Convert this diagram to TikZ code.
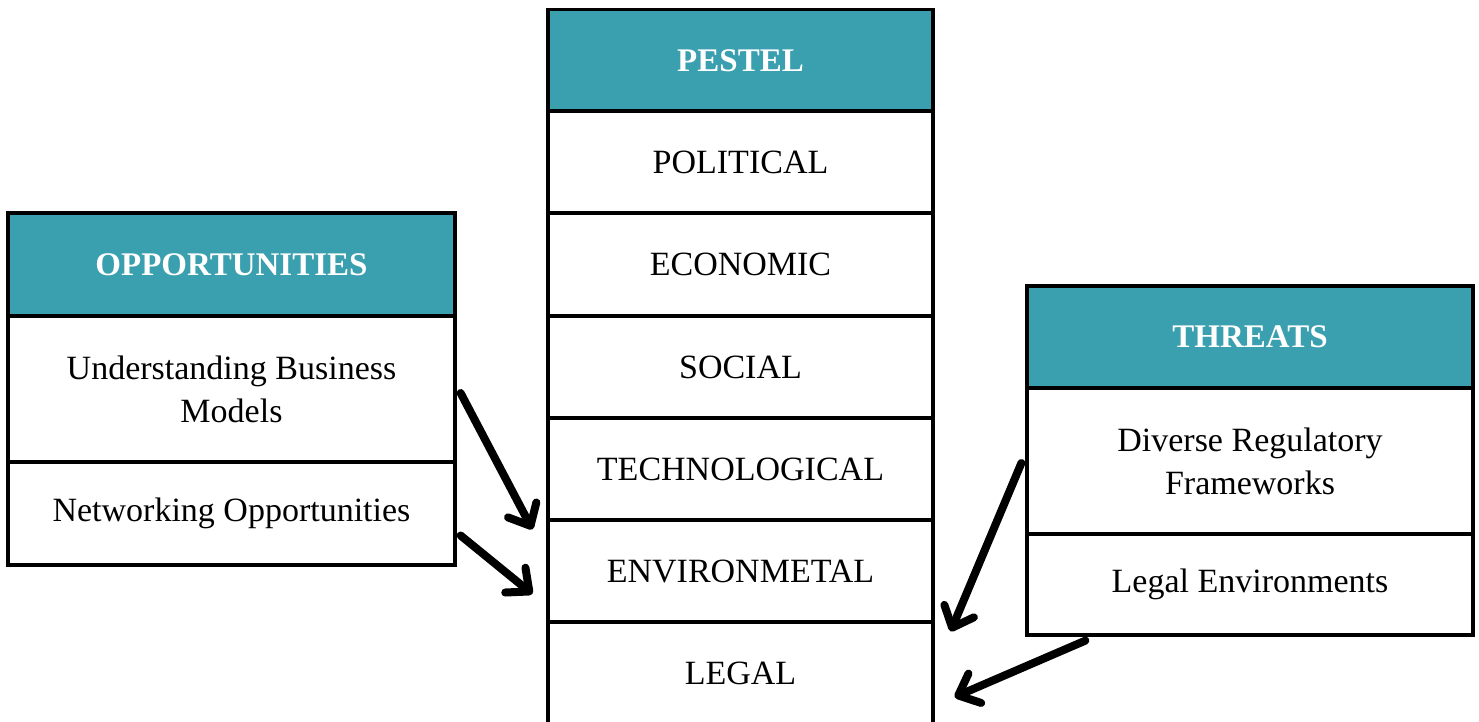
\documentclass[tikz,border=0pt]{standalone}
\usepackage{fontspec}
\setmainfont{Liberation Serif}
\usetikzlibrary{arrows.meta,calc}
\definecolor{teal}{RGB}{58,159,174}
\begin{document}
\begin{tikzpicture}[x=0.5pt,y=-0.5pt,
  cell/.style={draw=black, line width=1.6pt, fill=white, align=center, inner sep=0pt,
    font=\fontsize{17}{21.5}\selectfont},
  head/.style={cell, fill=teal, text=white, font=\fontsize{16.5}{20}\selectfont\bfseries},
  pcell/.style={minimum width=192.5pt, minimum height=51pt},
  ocell/.style={minimum width=223.5pt},
  tcell/.style={minimum width=223pt},
  arr/.style={line width=4pt, line cap=round,
    -{Straight Barb[round, length=9pt, width=16pt]}}]
\clip (0,0) rectangle (1479,722);
\fill[white] (0,0) rectangle (1479,722);

% PESTEL column
\node[head, pcell] (pestel) at (740.5,60.5) {PESTEL};
\node[cell, pcell] (pol) at (740.5,162)   {POLITICAL};
\node[cell, pcell] (eco) at (740.5,264.5) {ECONOMIC};
\node[cell, pcell] (soc) at (740.5,367)   {SOCIAL};
\node[cell, pcell] (tec) at (740.5,469)   {TECHNOLOGICAL};
\node[cell, pcell] (env) at (740.5,571)   {ENVIRONMETAL};
\node[cell, pcell] (leg) at (740.5,673)   {LEGAL};

% Opportunities
\node[head, ocell, minimum height=51.5pt] (opp) at (231.5,264.5) {OPPORTUNITIES};
\node[cell, ocell, minimum height=73pt] (ubm) at (231.5,389) {Understanding Business\\Models};
\node[cell, ocell, minimum height=51.5pt] (net) at (231.5,513.5) {Networking Opportunities};

% Threats
\node[head, tcell, minimum height=51pt] (thr) at (1250,337) {THREATS};
\node[cell, tcell, minimum height=73pt] (drf) at (1250,461) {Diverse Regulatory\\Frameworks};
\node[cell, tcell, minimum height=50.5pt] (lenv) at (1250,584.5) {Legal Environments};

% Links into the PESTEL column
\draw[arr] ($(ubm.east)+(4,4)$) -- ($(env.north west)+(-14,11)$);
\draw[arr] ($(net.east)+(4,22)$) -- ($(env.west)+(-14,23)$);
\draw[arr] ($(drf.west)+(-4,2)$) -- ($(leg.north east)+(16,11)$);
\draw[arr] ($(lenv.south west)+(60,4)$) -- ($(leg.east)+(20,24)$);
\end{tikzpicture}
\end{document}
